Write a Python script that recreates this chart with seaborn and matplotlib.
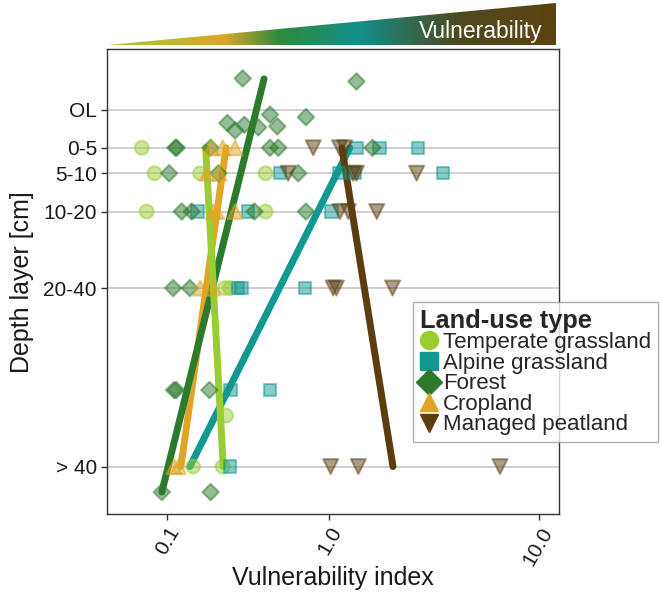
import numpy as np
import pandas as pd
import seaborn as sns
import matplotlib.pyplot as plt
from matplotlib.lines import Line2D
from matplotlib.patches import Polygon
from matplotlib.colors import LinearSegmentedColormap

sns.set_theme(style='white')
plt.rcParams['font.family'] = ['Liberation Sans', 'DejaVu Sans']

land_uses = ['Temperate grassland', 'Alpine grassland', 'Forest', 'Cropland', 'Managed peatland']
colors = ['#9ACD32', '#129893', '#2C7A2C', '#E0A526', '#5A3E10']
markers = ['o', 's', 'D', '^', 'v']
marker_sizes = [100, 80, 70, 115, 115]

depth_ticks = [-5, 2.5, 7.5, 15, 30, 65]
depth_labels = ['OL', '0-5', '5-10', '10-20', '20-40', '> 40']

# sample points: vulnerability index and depth [cm]
temperate_vi = [0.053, 0.075, 0.183, 0.464, 0.061, 0.464, 0.268, 0.288, 0.272, 0.163, 0.259]
temperate_depth = [2.5, 7.5, 7.5, 7.5, 15, 15, 30, 30, 55, 65, 65]

alpine_vi = [1.37, 1.77, 2.72, 0.556, 1.13, 1.35, 3.55, 0.175, 0.370, 1.03,
             0.323, 0.338, 0.754, 0.29, 0.491, 0.288]
alpine_depth = [2.5, 2.5, 2.5, 7.5, 7.5, 7.5, 7.5, 15, 15, 15,
                30, 30, 30, 50, 50, 65]

forest_vi = [0.343, 1.37, 0.491, 0.538, 0.763, 0.277, 0.309, 0.351, 0.422,
             0.118, 0.121, 0.216, 0.491, 0.545, 1.64, 0.104, 0.243, 0.696,
             0.133, 0.159, 0.402, 0.763, 0.113, 0.154, 0.115, 0.120, 0.212,
             0.089, 0.216]
forest_depth = [-11.1, -10.5, -4.0, -1.7, -3.5, -2.35, -0.9, -2.0, -1.5,
                2.5, 2.5, 2.5, 2.5, 2.5, 2.5, 7.5, 7.5, 7.5,
                15, 15, 15, 15, 30, 30, 50, 50, 50,
                70, 70]

cropland_vi = [0.220, 0.259, 0.309, 0.205, 0.246, 0.237, 0.225, 0.309, 0.183, 0.225, 0.115, 0.125]
cropland_depth = [2.5, 2.5, 2.5, 7.5, 7.5, 15, 15, 15, 30, 30, 65, 65]

peatland_vi = [0.832, 1.13, 1.20, 0.616, 1.32, 1.37, 2.67, 1.135, 1.25, 1.72,
               1.05, 1.09, 2.05, 1.02, 1.40, 6.57]
peatland_depth = [2.5, 2.5, 2.5, 7.5, 7.5, 7.5, 7.5, 15, 15, 15,
                  30, 30, 30, 65, 65, 65]

# trend lines (top and bottom end)
trend_top_vi = [0.200, 1.27, 0.455, 0.272, 1.16]
trend_top_depth = [2.5, 2.5, -11, 2.5, 2.5]
trend_bottom_vi = [0.261, 0.154, 0.089, 0.131, 2.06]
trend_bottom_depth = [65, 65, 70, 65, 65]

groups = [(temperate_vi, temperate_depth), (alpine_vi, alpine_depth),
          (forest_vi, forest_depth), (cropland_vi, cropland_depth),
          (peatland_vi, peatland_depth)]
points = pd.concat([pd.DataFrame({'vi': v, 'depth': d, 'land_use': lu})
                    for lu, (v, d) in zip(land_uses, groups)], ignore_index=True)
trends = pd.DataFrame({
    'vi': trend_top_vi + trend_bottom_vi,
    'depth': trend_top_depth + trend_bottom_depth,
    'land_use': land_uses + land_uses,
    'order': [0] * 5 + [1] * 5,
}).sort_values(['land_use', 'order'])

palette = dict(zip(land_uses, colors))
marker_map = dict(zip(land_uses, markers))
size_map = dict(zip(land_uses, marker_sizes))

fig = plt.figure(figsize=(6.61, 5.95), dpi=100)
ax = fig.add_axes([0.1614, 0.1361, 0.6847, 0.781])


def fwd(x):
    with np.errstate(invalid='ignore', divide='ignore'):
        return np.log10(np.asarray(x) + 0.1)


def inv(t):
    return 10 ** np.asarray(t) - 0.1


ax.set_xscale('function', functions=(fwd, inv))

sns.lineplot(data=trends, x='vi', y='depth', hue='land_use', palette=palette,
             estimator=None, sort=False, linewidth=5, legend=False, ax=ax, zorder=2)
sns.scatterplot(data=points, x='vi', y='depth', hue='land_use', style='land_use',
                size='land_use', sizes=size_map,
                palette=palette, markers=marker_map, alpha=0.5,
                edgecolor='face', linewidth=1.5, legend=False, ax=ax, zorder=3)

ax.set_xlim(0.0057, 12.36)
ax.set_ylim(74.3, -16.8)
ax.set_xticks([0.1, 1, 10])
ax.set_xticklabels(['0.1', '1.0', '10.0'], rotation=60, ha='right', va='top',
                   rotation_mode='anchor')
ax.set_yticks(depth_ticks)
ax.set_yticklabels(depth_labels)
ax.tick_params(axis='both', labelsize=15, labelcolor='#1a1a1a', length=4,
               width=1, color='#333333', bottom=True, left=True, pad=3)
ax.yaxis.grid(True, color='#C8C8C8', linewidth=1.2)
ax.xaxis.grid(False)
for sp in ax.spines.values():
    sp.set_color('#333333')
    sp.set_linewidth(1.0)
ax.set_xlabel('Vulnerability index', fontsize=18, color='#1a1a1a')
ax.set_ylabel('Depth layer [cm]', fontsize=18, color='#1a1a1a')
ax.xaxis.set_label_coords(0.5, -0.112)
ax.yaxis.set_label_coords(-0.161, 0.5)

# gradient wedge on top
cmap = LinearSegmentedColormap.from_list('vuln', [
    (0.0, '#9BCB3C'), (0.26, '#DDA52A'), (0.38, '#2E8B3A'),
    (0.56, '#128F8C'), (0.78, '#4D4A1E'), (1.0, '#5C4311')])
axw = fig.add_axes([108 / 661, 1 - 45 / 595, 448 / 661, 42.3 / 595])
grad = np.linspace(0, 1, 256).reshape(1, -1)
im = axw.imshow(grad, aspect='auto', cmap=cmap, extent=[0, 1, 0, 1])
wedge = Polygon([[0, 0], [1, 0], [1, 1]], closed=True, transform=axw.transData)
im.set_clip_path(wedge)
axw.set_xlim(0, 1)
axw.set_ylim(0, 1)
axw.axis('off')
axw.text(0.971, 0.31, 'Vulnerability', color='white', ha='right', va='center',
         fontsize=16.5)

handles = [Line2D([], [], linestyle='none', marker=m, color=c, markersize=13)
           for m, c in zip(markers, colors)]
leg = fig.legend(handles, land_uses, title='Land-use type', loc='upper left',
                 bbox_to_anchor=(413 / 661, 1 - 302 / 595), fontsize=16,
                 title_fontproperties={'weight': 'bold', 'size': 18.3},
                 frameon=True, fancybox=False, edgecolor='#999999',
                 handlelength=0.8, handletextpad=0.25, labelspacing=-0.02,
                 borderpad=0.3, alignment='left', borderaxespad=0)
leg.get_frame().set_linewidth(1.0)

fig.savefig('out.png', dpi=100)
